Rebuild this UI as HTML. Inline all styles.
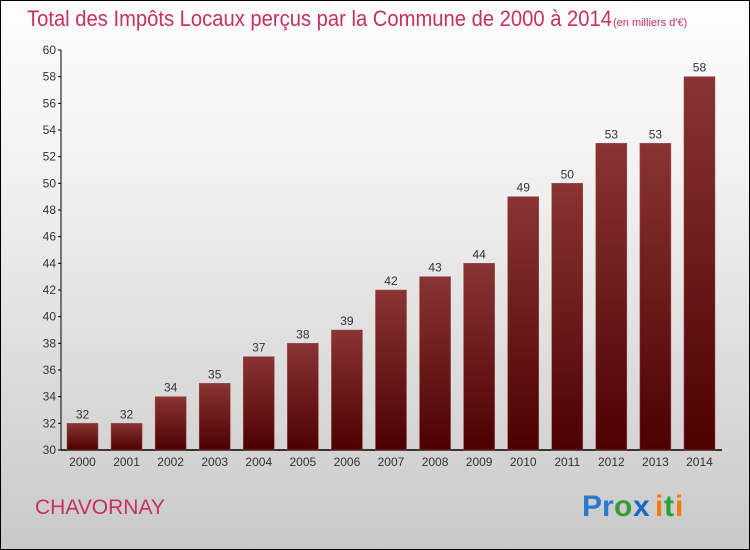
<!DOCTYPE html>
<html><head><meta charset="utf-8"><style>
body{margin:0;width:750px;height:550px;overflow:hidden;font-family:"Liberation Sans",sans-serif}
#wrap{position:absolute;left:0;top:0;width:748px;height:548px;border:1px solid #000;background:linear-gradient(#fdfdfd,#f2f2f2 30%,#c9c9c9)}
</style></head><body>
<div id="wrap">
<svg width="750" height="550" style="position:absolute;left:-1px;top:-1px">
<defs><linearGradient id="bg" x1="0" y1="0" x2="0" y2="1"><stop offset="0" stop-color="#8a3434"/><stop offset="1" stop-color="#4d0000"/></linearGradient></defs>
<text x="27" y="26" font-size="22" fill="#c8305e" textLength="585" lengthAdjust="spacingAndGlyphs">Total des Impôts Locaux perçus par la Commune de 2000 à 2014</text>
<text x="613" y="26" font-size="11" fill="#c8305e">(en milliers d'€)</text>
<g id="axes"></g><g id="bars"></g>
<text x="35" y="514" font-size="21" fill="#c8305e">CHAVORNAY</text>
<g font-size="30" font-weight="bold"><text x="582" y="516" fill="#2a7ad0">Pr</text><text x="614" y="516" fill="#3a9a3a">o</text><text x="633" y="516" fill="#1a6ac0">x</text><text x="655" y="516" fill="#f07a10">i</text><text x="664" y="516" fill="#2aa040">t</text><text x="675" y="516" fill="#f07a10">i</text></g>
</svg></div>
<script>
const years=["2000","2001","2002","2003","2004","2005","2006","2007","2008","2009","2010","2011","2012","2013","2014"];
const values=[32,32,34,35,37,38,39,42,43,44,49,50,53,53,58];
const ticks=[30,32,34,36,38,40,42,44,46,48,50,52,54,56,58,60];
const NS="http://www.w3.org/2000/svg";
const y=v=>450-(v-30)*400/30;
const x=i=>67+i*44.07;
function mk(t,a,p,txt){const e=document.createElementNS(NS,t);for(const k in a)e.setAttribute(k,a[k]);if(txt!=null)e.textContent=txt;p.appendChild(e);return e;}
const ax=document.getElementById('axes'),bs=document.getElementById('bars');
let l=mk('line',{x1:61,y1:50,x2:61,y2:450,stroke:'#000'},ax);

l=mk('line',{x1:61,y1:450,x2:722,y2:450,stroke:'#000','stroke-width':1.5},ax);

ticks.forEach(t=>{mk('line',{x1:58,y1:y(t),x2:61,y2:y(t),stroke:'#000'},ax);
const e=mk('text',{x:56,y:y(t)+4,'font-size':12,fill:'#333','text-anchor':'end'},ax,t);
});
values.forEach((v,i)=>{const r=mk('rect',{x:x(i),y:y(v),width:31,height:450-y(v),fill:'url(#bg)',stroke:'#9a4a4a','stroke-width':0.5},bs);

const t=mk('text',{x:x(i)+15.5,y:y(v)-5,'font-size':12,fill:'#333','text-anchor':'middle'},bs,v);

const c=mk('text',{x:x(i)+15.5,y:466,'font-size':12,fill:'#333','text-anchor':'middle'},bs,years[i]);
});
</script></body></html>
